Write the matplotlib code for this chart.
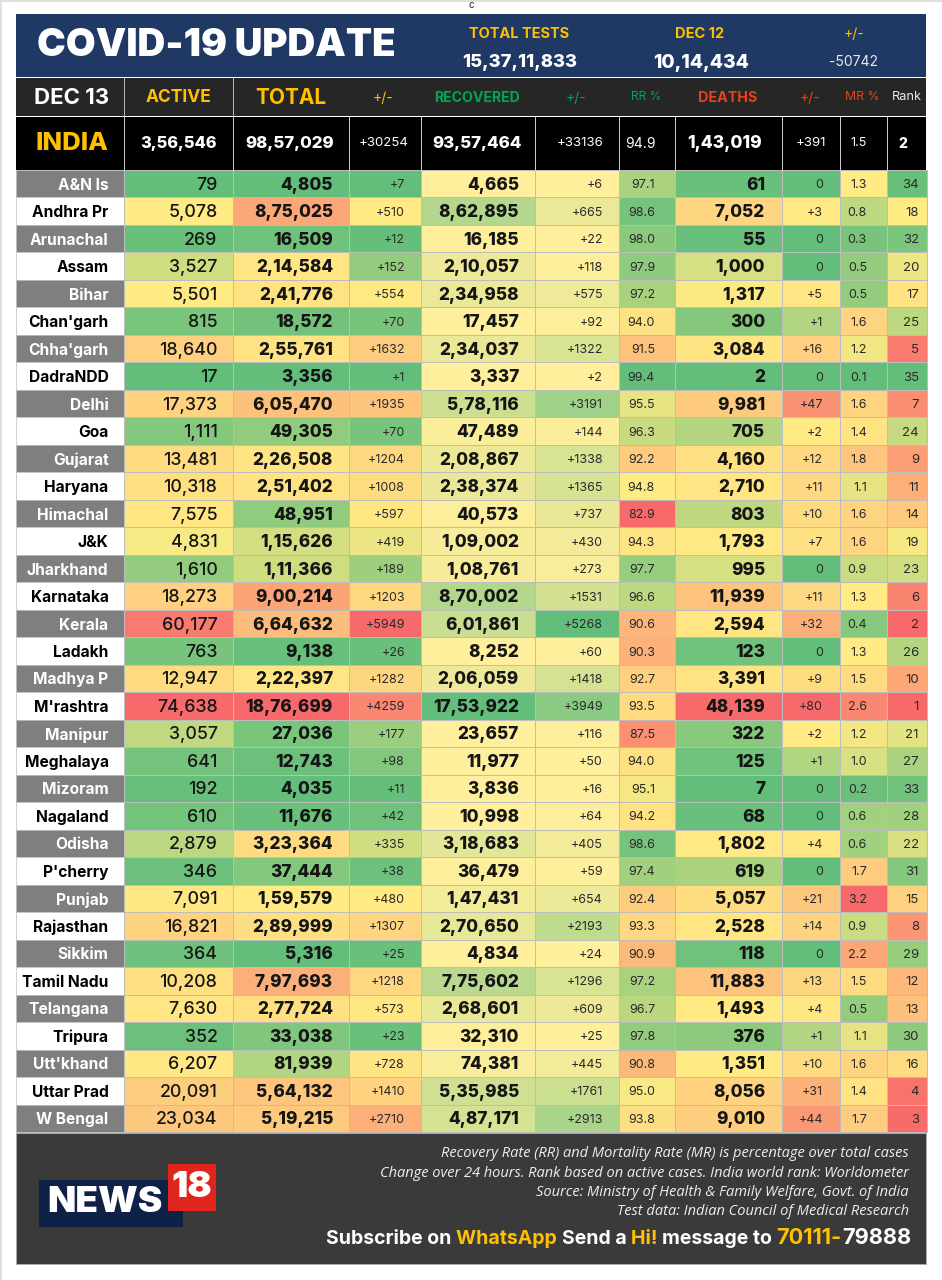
import numpy as np
from matplotlib import pyplot as plt
from matplotlib.colors import LinearSegmentedColormap, Normalize, TwoSlopeNorm
from matplotlib.patches import Rectangle

states = ["A&N Is", "Andhra Pr", "Arunachal", "Assam", "Bihar", "Chan'garh", "Chha'garh", "DadraNDD",
          "Delhi", "Goa", "Gujarat", "Haryana", "Himachal", "J&K", "Jharkhand", "Karnataka", "Kerala",
          "Ladakh", "Madhya P", "M'rashtra", "Manipur", "Meghalaya", "Mizoram", "Nagaland", "Odisha",
          "P'cherry", "Punjab", "Rajasthan", "Sikkim", "Tamil Nadu", "Telangana", "Tripura", "Utt'khand",
          "Uttar Prad", "W Bengal"]
active = [79, 5078, 269, 3527, 5501, 815, 18640, 17, 17373, 1111, 13481, 10318, 7575, 4831, 1610, 18273,
          60177, 763, 12947, 74638, 3057, 641, 192, 610, 2879, 346, 7091, 16821, 364, 10208, 7630, 352,
          6207, 20091, 23034]
total = [4805, 875025, 16509, 214584, 241776, 18572, 255761, 3356, 605470, 49305, 226508, 251402, 48951,
         115626, 111366, 900214, 664632, 9138, 222397, 1876699, 27036, 12743, 4035, 11676, 323364, 37444,
         159579, 289999, 5316, 797693, 277724, 33038, 81939, 564132, 519215]
total_change = [7, 510, 12, 152, 554, 70, 1632, 1, 1935, 70, 1204, 1008, 597, 419, 189, 1203, 5949, 26,
                1282, 4259, 177, 98, 11, 42, 335, 38, 480, 1307, 25, 1218, 573, 23, 728, 1410, 2710]
recovered = [4665, 862895, 16185, 210057, 234958, 17457, 234037, 3337, 578116, 47489, 208867, 238374,
             40573, 109002, 108761, 870002, 601861, 8252, 206059, 1753922, 23657, 11977, 3836, 10998,
             318683, 36479, 147431, 270650, 4834, 775602, 268601, 32310, 74381, 535985, 487171]
recovered_change = [6, 665, 22, 118, 575, 92, 1322, 2, 3191, 144, 1338, 1365, 737, 430, 273, 1531, 5268,
                    60, 1418, 3949, 116, 50, 16, 64, 405, 59, 654, 2193, 24, 1296, 609, 25, 445, 1761, 2913]
rr = [97.1, 98.6, 98.0, 97.9, 97.2, 94.0, 91.5, 99.4, 95.5, 96.3, 92.2, 94.8, 82.9, 94.3, 97.7, 96.6, 90.6,
      90.3, 92.7, 93.5, 87.5, 94.0, 95.1, 94.2, 98.6, 97.4, 92.4, 93.3, 90.9, 97.2, 96.7, 97.8, 90.8, 95.0, 93.8]
deaths = [61, 7052, 55, 1000, 1317, 300, 3084, 2, 9981, 705, 4160, 2710, 803, 1793, 995, 11939, 2594, 123,
          3391, 48139, 322, 125, 7, 68, 1802, 619, 5057, 2528, 118, 11883, 1493, 376, 1351, 8056, 9010]
deaths_change = [0, 3, 0, 0, 5, 1, 16, 0, 47, 2, 12, 11, 10, 7, 0, 11, 32, 0, 9, 80, 2, 1, 0, 0, 4, 0, 21,
                 14, 0, 13, 4, 1, 10, 31, 44]
mr = [1.3, 0.8, 0.3, 0.5, 0.5, 1.6, 1.2, 0.1, 1.6, 1.4, 1.8, 1.1, 1.6, 1.6, 0.9, 1.3, 0.4, 1.3, 1.5, 2.6,
      1.2, 1.0, 0.2, 0.6, 0.6, 1.7, 3.2, 0.9, 2.2, 1.5, 0.5, 1.1, 1.6, 1.4, 1.7]
rank = [34, 18, 32, 20, 17, 25, 5, 35, 7, 24, 9, 11, 14, 19, 23, 6, 2, 26, 10, 1, 21, 27, 33, 28, 22, 31,
        15, 8, 29, 12, 13, 30, 16, 4, 3]

india_values = ["3,56,546", "98,57,029", "+30254", "93,57,464", "+33136", "94.9", "1,43,019", "+391", "1.5", "2"]
header_labels = ["ACTIVE", "TOTAL", "+/-", "RECOVERED", "+/-", "RR %", "DEATHS", "+/-", "MR %", "Rank"]
notes = ["Recovery Rate (RR) and Mortality Rate (MR) is percentage over total cases",
         "Change over 24 hours. Rank based on active cases. India world rank: Worldometer",
         "Source: Ministry of Health & Family Welfare, Govt. of India",
         "Test data: Indian Council of Medical Research"]

BOLD = ["Inter", "DejaVu Sans"]
GOLD = "#FFC000"
GREEN = "#00A651"
RED = "#E8401C"
GRID = "#BDBDBD"

# green / yellow / red colour scale like the spreadsheet one
gyr = LinearSegmentedColormap.from_list("gyr", ["#63BE7B", "#FFEB84", "#F8696B"])
ryg = gyr.reversed()
yg = LinearSegmentedColormap.from_list("yg", ["#FFEF9C", "#63BE7B"])


def indian(n):
    s = str(n)
    if len(s) <= 3:
        return s
    head, tail = s[:-3], s[-3:]
    parts = []
    while len(head) > 2:
        parts.insert(0, head[-2:])
        head = head[:-2]
    parts.insert(0, head)
    return ",".join(parts) + "," + tail


def signed(n):
    return "+" + str(n) if n > 0 else "0"


def scale(values, low=1, mid=50, high=99):
    a, b, c = np.percentile(values, [low, mid, high])
    return TwoSlopeNorm(vmin=a, vcenter=b, vmax=c)


col_x = [15.5, 124, 233, 349, 421, 535, 618.5, 674.5, 781.5, 839.5, 886.5, 926.5]
row_y = np.linspace(170, 1132, len(states) + 1)
row_mid = (row_y[:-1] + row_y[1:]) / 2

# values, formatter, cmap, norm, text right edge, font size, weight
columns = [
    (active, indian, gyr, scale(active), 217.5, 12.8, "medium"),
    (total, indian, gyr, scale(total), 333, 12.4, "heavy"),
    (total_change, signed, gyr, scale(total_change), 405, 9, "normal"),
    (recovered, indian, yg, Normalize(min(recovered), max(recovered)), 519, 12.4, "heavy"),
    (recovered_change, signed, yg, Normalize(min(recovered_change), max(recovered_change)), 603, 9, "normal"),
    (rr, "{:.1f}".format, ryg, scale(rr), 655, 9, "normal"),
    (deaths, indian, gyr, scale(deaths), 765, 12.4, "heavy"),
    (deaths_change, signed, gyr, scale(deaths_change, mid=40), 823, 9, "normal"),
    (mr, "{:.1f}".format, gyr, scale(mr), 867, 9, "normal"),
    (rank, str, ryg, scale(rank, low=5), 919, 9.5, "normal"),
]

fig = plt.figure(figsize=(9.42, 12.8), dpi=100, facecolor="white")
ax = fig.add_axes([0, 0, 1, 1])
ax.set_xlim(0, 942)
ax.set_ylim(1280, 0)
ax.axis("off")


def txt(x, y, s, size, color="white", weight="bold", ha="center", family=BOLD, **kw):
    # va center sits a bit high, push everything down
    return ax.text(x, y + 1.5, s, fontsize=size, color=color, fontweight=weight, ha=ha, va="center",
                   family=family, **kw)


def box(x0, y0, x1, y1, color, **kw):
    ax.add_patch(Rectangle((x0, y0), x1 - x0, y1 - y0, facecolor=color, edgecolor=kw.pop("edge", "none"),
                           linewidth=kw.pop("lw", 0), **kw))


# page edges and stray letter at the top
box(0, 0, 942, 1.5, "#E0E0E0")
box(0, 0, 1.5, 1280, "#E0E0E0")
txt(471, 4, "c", 7, color="#222222", weight="normal")

# top banner
box(15.5, 14, 926, 77, "#1F3864")
txt(37, 44, "COVID-19 UPDATE", 27.7, ha="left", weight="black")
txt(519, 33, "TOTAL TESTS", 10.5, color=GOLD)
txt(700, 33, "DEC 12", 10.5, color=GOLD)
txt(854, 33, "+/-", 10, color=GOLD, weight="normal")
txt(519.5, 61, "15,37,11,833", 13.2, weight="heavy")
txt(701, 61, "10,14,434", 13.8, weight="heavy")
txt(854, 61, "-50742", 10, color="#E8E8E8", weight="normal")

# header row
box(15.5, 78, 926, 116, "#262626")
for x in col_x[1:3]:
    ax.plot([x, x], [78, 116], color="#BBBBBB", lw=0.7)
txt(72, 96, "DEC 13", 16)
head_x = [178, 291, 383, 477, 576, 646, 728, 810, 862, 907]
head_size = [12.5, 15, 10, 10.2, 10, 8.5, 10.3, 10, 8.8, 9.2]
head_color = [GOLD, GOLD, GOLD, GREEN, GREEN, GREEN, RED, RED, RED, "#E8E8E8"]
head_weight = ["bold", "bold", "normal", "bold", "normal", "normal", "bold", "normal", "normal", "normal"]
for x, s, size, c, w in zip(head_x, header_labels, head_size, head_color, head_weight):
    txt(x, 96, s, size, color=c, weight=w)

# india row
box(15.5, 117, 926, 170, "black")
for x in col_x[1:-1]:
    ax.plot([x, x], [117, 170], color="#D0D0D0", lw=0.7)
txt(72, 142, "INDIA", 18.5, color=GOLD, weight="heavy")
india_x = [178.5, 290, 384, 477, 580, 640, 725, 811, 859, 903]
india_size = [11.8, 12.2, 9.5, 12.2, 9.5, 10, 12.5, 9.5, 9, 10]
india_weight = ["heavy", "heavy", "normal", "heavy", "normal", "normal", "heavy", "normal", "normal", "heavy"]
for x, s, size, w in zip(india_x, india_values, india_size, india_weight):
    txt(x, 142, s, size, weight=w)

# state labels
for i, name in enumerate(states):
    box(col_x[0], row_y[i], col_x[1], row_y[i + 1], "#7F7F7F" if i % 2 == 0 else "white", edge=GRID, lw=0.5)
    txt(108.5, row_mid[i], name, 11.2, color="white" if i % 2 == 0 else "black", ha="right")

# heat map columns
for c, (values, fmt, cmap, norm, right, size, weight) in enumerate(columns):
    grid = np.array(values, dtype=float).reshape(-1, 1)
    ax.pcolormesh(col_x[c + 1:c + 3], row_y, grid, cmap=cmap, norm=norm, edgecolors=GRID, linewidth=0.4)
    for y, v in zip(row_mid, values):
        txt(right, y, fmt(v), size, color="#151515" if weight != "normal" else "#2A2A2A", weight=weight, ha="right")

# footer
box(15.5, 1133, 926, 1264, "#3A3A3A", edge="#AAAAAA", lw=0.7)
for y, s in zip([1152, 1172, 1191, 1210], notes):
    txt(909, y, s, 10.5, color="#EEEEEE", weight="normal", ha="right", style="italic",
        family=["Open Sans", "DejaVu Sans"])

# logo
box(39, 1180, 183, 1227, "#0F2147")
box(168, 1164, 216, 1211, "#E0261C")
txt(47, 1201.5, "NEWS", 26.5, ha="left", weight="black")
txt(192, 1186, "18", 26, weight="black")

# subscribe line, right to left
pieces = [("79888", "white", 15.7), ("70111-", GOLD, 15.7), ("message to ", "white", 14), ("Hi! ", GOLD, 14),
          ("Send a ", "white", 14), ("WhatsApp ", GOLD, 14), ("Subscribe on ", "white", 14)]
x = 911
renderer = fig.canvas.get_renderer()
for s, c, size in pieces:
    t = txt(x, 1237, s.replace(" ", "\u00a0"), size, color=c, ha="right")
    x = t.get_window_extent(renderer).x0

fig.savefig("out.png", dpi=100, facecolor="white")
